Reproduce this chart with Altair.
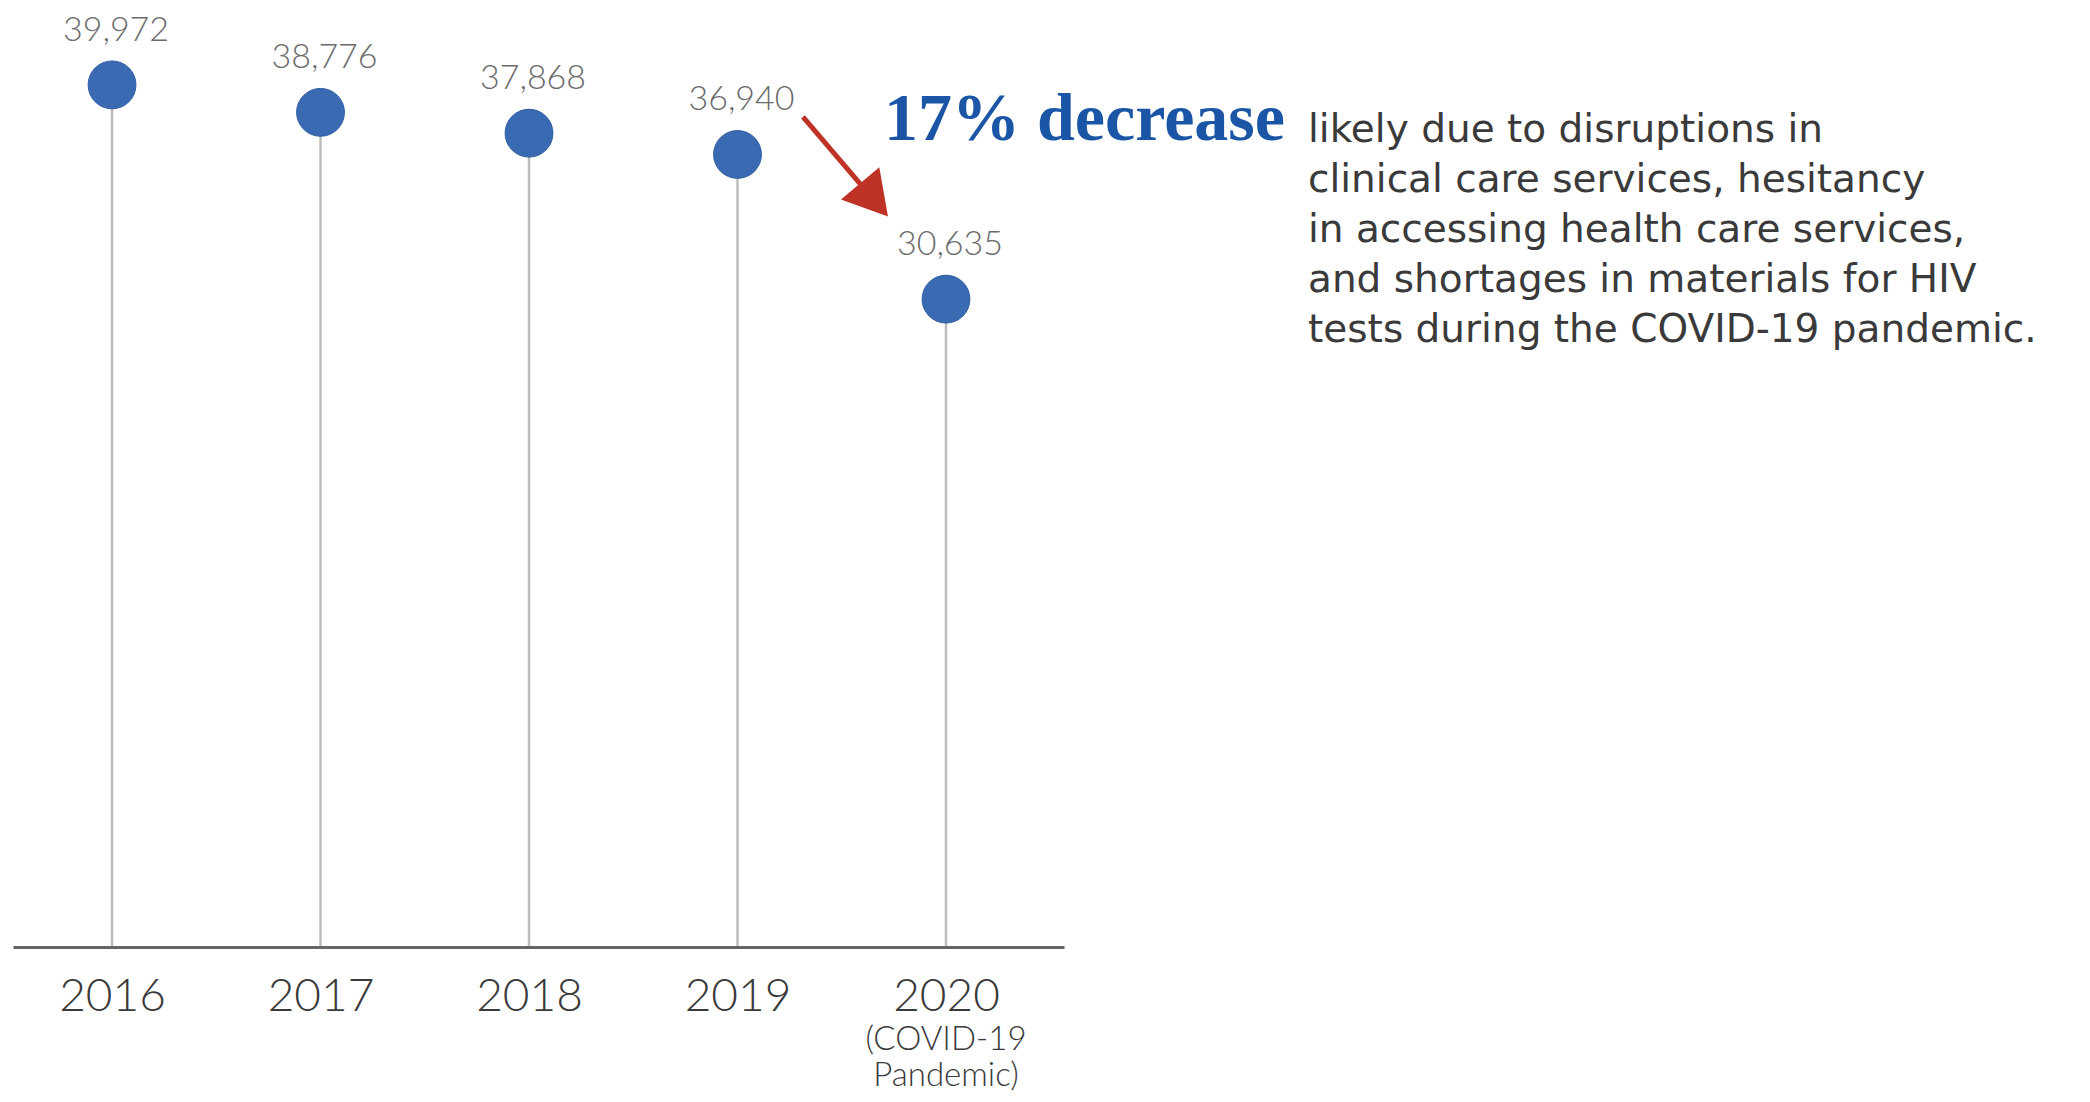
import altair as alt
import pandas as pd

# ---- data ----
years = [2016, 2017, 2018, 2019, 2020]
values = [39972, 38776, 37868, 36940, 30635]
sub_label = ["(COVID-19", "Pandemic)"]
headline = "17% decrease"
body_lines = [
    "likely due to disruptions in",
    "clinical care services, hesitancy",
    "in accessing health care services,",
    "and shortages in materials for HIV",
    "tests during the COVID-19 pandemic.",
]
# arrow annotation (data coordinates: year, value)
arrow_start = [2019.314, 38573]
arrow_end = [2019.655, 34955]

x_domain = [2015.525, 2020.566]
y_domain = [2400, 42800]

FONT = "Lato"
BODY_FONT = "DejaVu Sans"
DOT = "#3a6bb2"
RED = "#bf3327"
BLUE = "#1b56a6"

df = pd.DataFrame({"year": years, "value": values})

X = alt.X(
    "year:Q",
    scale=alt.Scale(domain=x_domain, nice=False, zero=False),
    axis=alt.Axis(
        values=years, format="d", title=None, grid=False, ticks=False,
        domainColor="#666666", domainWidth=3, labelPadding=27,
        labelFontSize=46, labelFont=FONT, labelFontWeight=300,
        labelColor="#3a3a3a", labelFlush=False, zindex=1,
    ),
)
Y = alt.Y("value:Q", scale=alt.Scale(domain=y_domain, nice=False, zero=False), axis=None)

base = alt.Chart(df)

stems = base.mark_rule(color="#bdbdbd", strokeWidth=2.5).encode(
    x=X, y=Y, y2=alt.datum(y_domain[0])
)
dots = base.mark_circle(size=2290, color=DOT, opacity=1, stroke="#2f5da3", strokeWidth=1).encode(
    x=X, y=Y
)
labels = base.mark_text(
    dy=-44, dx=4, baseline="alphabetic", fontSize=34, color="#6b6b6b",
    font=FONT, fontWeight=300,
).encode(x=X, y=Y, text=alt.Text("value:Q", format=","))

sub = alt.Chart(pd.DataFrame({"year": [years[-1]]})).mark_text(
    text=sub_label, fontSize=33, lineHeight=36, baseline="alphabetic",
    font=FONT, fontWeight=300, color="#3a3a3a",
).encode(x=X, y=alt.value(1030))

arrow_df = pd.DataFrame({
    "year": [arrow_start[0]], "value": [arrow_start[1]],
    "year2": [arrow_end[0]], "value2": [arrow_end[1]],
})
arrow_line = alt.Chart(arrow_df).mark_rule(color=RED, strokeWidth=5).encode(
    x=X, y=Y, x2="year2:Q", y2="value2:Q"
)
head_df = pd.DataFrame({"year": [arrow_end[0]], "value": [arrow_end[1]]})
arrow_head = alt.Chart(head_df).mark_point(
    shape="triangle-up", angle=140, size=2500, filled=True, color=RED, opacity=1
).encode(x=X, y=Y)

head_text = alt.Chart(pd.DataFrame({"t": [headline]})).mark_text(
    align="left", baseline="alphabetic", font="Liberation Serif", fontWeight="bold",
    fontSize=68, color=BLUE,
).encode(x=alt.value(871), y=alt.value(120), text="t:N")

body = alt.Chart(pd.DataFrame({"k": [0]})).mark_text(
    text=body_lines, align="left", baseline="alphabetic", font=BODY_FONT,
    fontSize=39, lineHeight=50, color="#3a3a3a",
).encode(x=alt.value(1295), y=alt.value(122))

chart = alt.layer(
    stems, dots, labels, sub, arrow_line, arrow_head, head_text, body
).properties(
    width=1051, height=927,
    autosize=alt.AutoSizeParams(type="none"),
    padding={"left": 5, "top": 12, "right": 1016, "bottom": 147},
    background="white",
).configure_view(stroke=None)

chart.save("out.html", embed_options={"renderer": "svg", "actions": False})
